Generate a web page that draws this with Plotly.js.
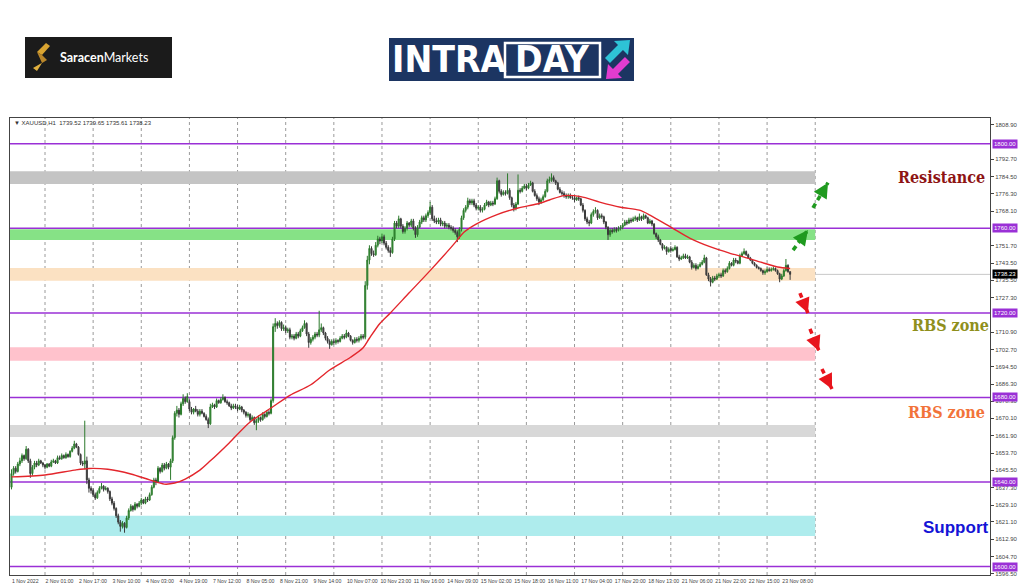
<!DOCTYPE html>
<html><head><meta charset="utf-8">
<script src="https://cdn.plot.ly/plotly-3.0.1.min.js"></script>
<style>html,body{margin:0;padding:0;background:#fff}#chart{width:1024px;height:587px}</style>
</head><body><div id="chart"></div>
<script>
// ---------------- DATA ----------------
const symbolInfo = "▼ XAUUSD,H1  1739.52 1739.65 1735.61 1738.23";
const tradingDays = ["1 Nov","2 Nov","3 Nov","4 Nov","7 Nov","8 Nov","9 Nov","10 Nov","11 Nov","14 Nov","15 Nov","16 Nov","17 Nov","18 Nov","21 Nov","22 Nov","23 Nov"];
const xTickLabels = ["1 Nov 2022","2 Nov 01:00","2 Nov 17:00","3 Nov 10:00","4 Nov 03:00","4 Nov 19:00","7 Nov 12:00","8 Nov 05:00","8 Nov 21:00","9 Nov 14:00","10 Nov 07:00","10 Nov 23:00","11 Nov 16:00","14 Nov 09:00","15 Nov 02:00","15 Nov 18:00","16 Nov 11:00","17 Nov 04:00","17 Nov 20:00","18 Nov 13:00","21 Nov 06:00","21 Nov 22:00","22 Nov 15:00","23 Nov 08:00"];

const openP = [
1637.5,1644,1646.5,1645,1648.5,1650,1652.5,1651,1655.5,1650,1644,1647,1649,1648,1650,1649,
1648,1647,1648.5,1647.5,1649.5,1650,1649,1651.5,1651,1652.5,1651.5,1653,1652,1654.5,1656,1658,1656.5,1653,1649,1648.5,1650,1641,1637,
1636,1634,1632.5,1635,1637,1638,1636.5,1637,1635.5,1632,1630,1627.5,1624,1621,1619,1620.5,1618.5,1623,1626.5,1628.5,1627,1629.5,1628.5,
1630,1631.5,1630,1632,1631.5,1634,1637.5,1641,1640,1646.5,1645,1648,1646.5,1648.5,1647,1650,1661,1672.5,1674,1672,1677,1679.5,1678,
1678,1674.5,1673,1674.5,1673.5,1672,1673.5,1672.5,1671,1669.5,1667.5,1675.5,1676.5,1675.5,1678.5,1677.5,1679,1680,1678,1677.5,1676,1675,1676,
1675.5,1674.5,1675.5,1674,1673,1671.5,1672,1669.5,1670.5,1668,1669,1670.5,1669.5,1672,1671,1673,1672.5,1678.5,1713.5,1715,1714,1715.5,1712.5,
1713,1711.5,1712,1708.5,1709,1708,1710,1709,1711.5,1713,1715,1710,1706,1707.5,1708.5,1710,1709.5,1712,1713,1710.5,1708,1706.5,1705,
1706.5,1706,1707,1706.5,1708,1709,1708.5,1710.5,1709,1707,1706,1707.5,1707,1708,1709,1708.5,1733,1745,1750.5,1748,1747.5,1752,1755,
1754,1756,1753,1751,1749.5,1748.5,1755,1762.5,1761,1764.5,1761,1758.5,1760,1762.5,1761.5,1763.5,1760,1757,1760.5,1763,1765,1764,1766,
1767.5,1770,1764.5,1763.5,1763,1764,1762,1762.5,1761,1761.5,1760.5,1760,1759,1758,1756,1759.5,1765,1768.5,1770,1773,1772,1773,1771,
1769.5,1770,1768.5,1769,1771,1772.5,1771,1772,1771.5,1774,1782.5,1777.5,1776,1777,1776.5,1778,1774.5,1771,1769.5,1771.5,1778,1777.5,1779,
1780,1779,1780.5,1781.5,1777.5,1775.5,1774,1772.5,1773.5,1775,1777.5,1782.5,1783,1784,1782.5,1781.5,1778.5,1777,1776.5,1775.5,1775,1775.5,1774.5,
1774.5,1773.5,1774.5,1774,1771,1768.5,1764.5,1763,1762.5,1766.5,1768,1768.5,1765,1766,1765.5,1763,1760.5,1757,1759,1758.5,1759.5,1759,1760,
1760.5,1761.5,1763,1762.5,1764,1763.5,1764.5,1765,1764,1765.5,1764.5,1766,1765,1762.5,1763.5,1762,1757.5,1756,1754.5,1752.5,1750.5,1751,1749,
1750.5,1749.5,1750,1751,1746.5,1745.5,1746,1747,1746,1746.5,1744,1741.5,1742.5,1741,1742,1743,1744,1746,1738,1736,1734.5,1736.5,1736,
1737.5,1738,1737.5,1740,1739.5,1741,1743.5,1742.5,1745,1744.5,1743.5,1747,1748,1749,1747.5,1746,1745,1743.5,1742.5,1741.5,1741,1740,1739,
1739.5,1740.5,1740,1740.5,1741,1740,1738.5,1736,1737.5,1740,1742.5,1739.52
];
const highP = [
1646,1647.5,1647.5,1649.5,1651.5,1653.5,1653,1657,1656,1651,1648,1650,1650,1651,1650.5,1649.5,
1648.5,1649,1649,1650.5,1651,1650.5,1652.5,1652.5,1653.5,1653,1654,1653.5,1655,1657,1659.5,1658.5,1657,1653.5,1650,1669,1652,1642,1638,
1637,1635,1636,1638,1639.5,1638.5,1638,1637.5,1636,1633,1631,1628,1625,1622,1621.5,1621,1624,1627.5,1629.5,1629,1630.5,1630,1631,
1632.5,1632,1633,1633,1635,1638.5,1642,1642,1647.5,1647,1649,1649,1649.5,1649,1651,1662,1673.5,1676,1675,1678,1681.5,1680.5,1682,
1679,1675.5,1675,1676,1674.5,1674.5,1674.5,1673,1672,1670.5,1677,1677.5,1677,1679.5,1679,1680,1681.5,1680.5,1679,1678,1677,1677,1677,
1676.5,1676.5,1676,1674.5,1673.5,1673,1672.5,1671.5,1671,1670,1671.5,1671,1673,1672.5,1674,1674,1679.5,1715,1717.5,1716,1716.5,1716,1714.5,
1714,1713,1713,1710,1710,1711,1711,1712.5,1714,1716.5,1715.5,1711,1708.5,1709.5,1711,1711,1721,1715,1713.5,1711,1709,1707.5,1707.5,
1707.5,1708,1707.5,1709,1710,1710,1712,1711,1709.5,1707.5,1708.5,1708.5,1709,1710,1710,1735,1747,1752,1751.5,1749.5,1753.5,1756.5,1756,
1757.5,1757,1754,1752,1751,1756,1763.5,1763.5,1766,1765,1762,1761,1763.5,1763,1764.5,1764.5,1761,1761.5,1764,1766,1766,1767,1768.5,
1772.5,1771,1766,1765,1765,1765,1763.5,1763.5,1762.5,1762.5,1761.5,1761,1760,1759,1760.5,1766,1769.5,1771,1774.5,1774,1774,1774,1772,
1771,1771,1770,1772,1773.5,1773,1773,1773,1775,1784,1783,1778.5,1778,1778,1786,1779,1775,1772,1772.5,1785.5,1779,1780,1781,
1781,1781.5,1782.5,1782,1778.5,1776.5,1775,1774.5,1776,1778.5,1783.5,1784.5,1786,1785,1783,1782,1779.5,1778,1777.5,1776.5,1776.5,1776.5,1775.5,
1775.5,1775,1775.5,1774.5,1772,1769,1765.5,1764,1767.5,1769,1770,1769,1767,1767,1766,1763.5,1761,1760,1760,1760.5,1760.5,1761,1761.5,
1762.5,1764,1764,1765,1765,1765.5,1766,1765.5,1767,1766,1767,1766.5,1765.5,1764.5,1764,1762.5,1758,1757,1755,1753,1752,1751.5,1751,
1751.5,1751,1752,1751.5,1747.5,1747,1748,1748,1747.5,1747,1745,1743.5,1743.5,1743,1744,1745,1747.5,1746.5,1739,1737,1737.5,1737.5,1738.5,
1739,1739,1741,1741,1742,1744.5,1744,1746,1746,1745,1748,1749,1750.5,1749.5,1748,1746.5,1745.5,1744,1743,1742,1741.5,1740.5,1740.5,
1741.5,1741.5,1741.5,1742,1741.5,1740.5,1739,1738.5,1741,1745.5,1743,1739.65
];
const lowP = [
1636.5,1643,1644,1644.5,1647.5,1649,1650,1650.5,1649,1642,1643,1646,1647,1647.5,1648.5,1647,
1646,1646.5,1647,1647,1649,1648.5,1648.5,1650.5,1650.5,1651,1651,1651.5,1651.5,1654,1655.5,1656,1652.5,1648,1647.5,1646,1639,1635,1634.5,
1633,1631.5,1632,1634.5,1636.5,1635.5,1636,1634.5,1631,1629,1626.5,1623,1620,1616.5,1618,1616,1618,1622,1626,1626,1626.5,1627.5,1628,
1629,1629.5,1629.5,1630.5,1631,1633.5,1637,1638.5,1639.5,1644,1644.5,1645.5,1646,1646,1641,1649,1660,1671,1670.5,1671.5,1676,1677,1677.5,
1673.5,1672,1672,1673,1671,1671,1672,1670.5,1669,1665.5,1667,1675,1674.5,1675,1677,1677,1678.5,1677.5,1676.5,1675.5,1674,1674.5,1674.5,
1673.5,1674,1673,1672,1670.5,1670.5,1668.5,1669,1667,1664.5,1668,1668.5,1669,1670,1670.5,1671.5,1672,1677.5,1711,1712.5,1713,1711.5,1711.5,
1710.5,1710.5,1707.5,1707.5,1707,1707.5,1708,1708.5,1711,1712.5,1709,1703.5,1705,1706.5,1707.5,1708.5,1708.5,1711,1709.5,1707,1705.5,1703,1704.5,
1705,1705,1705.5,1706,1707.5,1707.5,1708,1708.5,1706.5,1705,1705.5,1706,1706,1707,1707.5,1707.5,1731,1743,1747,1746.5,1747,1751,1752.5,
1753,1752,1750,1748.5,1746.5,1748,1754,1760,1760,1760,1757.5,1757.5,1759,1760.5,1760.5,1759,1755.5,1756,1760,1762,1763,1763,1765,
1766.5,1763.5,1762.5,1762,1762,1761,1761,1760,1760,1759.5,1759,1758,1757,1753.5,1755,1758.5,1764,1767.5,1769,1771,1771,1770,1768.5,
1768.5,1767.5,1767.5,1768.5,1770.5,1770,1770.5,1770.5,1771,1773.5,1776.5,1775,1775.5,1775.5,1776,1773.5,1770,1768,1768.5,1771,1776.5,1777,1778.5,
1778,1778.5,1780,1777,1775,1773,1771,1771.5,1773,1774.5,1777,1781.5,1782,1782,1780.5,1778,1776.5,1775.5,1774.5,1774,1774,1774,1773.5,
1772.5,1773,1773,1770.5,1767.5,1763.5,1762,1761,1762,1765.5,1767,1764,1764.5,1764.5,1762,1759.5,1754.5,1756,1757.5,1758,1758,1758.5,1759,
1759.5,1761,1761.5,1762,1762.5,1763,1763.5,1763,1763.5,1763.5,1764,1764.5,1762,1762,1761,1757,1755,1753.5,1752,1749.5,1750,1747.5,1748.5,
1748.5,1749,1749.5,1746,1744.5,1745,1745.5,1745.5,1745.5,1743.5,1740.5,1741,1740,1740.5,1741.5,1742.5,1743.5,1737.5,1735,1732.5,1734,1735,1735.5,
1736.5,1736.5,1737,1738.5,1739,1740.5,1742,1742,1743.5,1743,1743,1746.5,1747.5,1747,1745.5,1744.5,1743,1742,1741,1740.5,1739.5,1738,1738,
1739,1739.5,1739.5,1740,1739.5,1738,1734.5,1735.5,1737,1739.5,1739,1735.61
];
const closeP = [
1644,1646.5,1645,1648.5,1650,1652.5,1651,1655.5,1650,1644,1647,1649,1648,1650,1649,1648,
1647,1648.5,1647.5,1649.5,1650,1649,1651.5,1651,1652.5,1651.5,1653,1652,1654.5,1656,1658,1656.5,1653,1649,1648.5,1650,1641,1637,1636,
1634,1632.5,1635,1637,1638,1636.5,1637,1635.5,1632,1630,1627.5,1624,1621,1619,1620.5,1618.5,1623,1626.5,1628.5,1627,1629.5,1628.5,1630,
1631.5,1630,1632,1631.5,1634,1637.5,1641,1640,1646.5,1645,1648,1646.5,1648.5,1647,1650,1661,1672.5,1674,1672,1677,1679.5,1678,1680.5,
1674.5,1673,1674.5,1673.5,1672,1673.5,1672.5,1671,1669.5,1667.5,1675.5,1676.5,1675.5,1678.5,1677.5,1679,1680,1678,1677.5,1676,1675,1676,1675.5,
1674.5,1675.5,1674,1673,1671.5,1672,1669.5,1670.5,1668,1669,1670.5,1669.5,1672,1671,1673,1672.5,1678.5,1713.5,1715,1714,1715.5,1712.5,1713,
1711.5,1712,1708.5,1709,1708,1710,1709,1711.5,1713,1715,1710,1706,1707.5,1708.5,1710,1709.5,1712,1713,1710.5,1708,1706.5,1705,1706.5,
1706,1707,1706.5,1708,1709,1708.5,1710.5,1709,1707,1706,1707.5,1707,1708,1709,1708.5,1733,1745,1750.5,1748,1747.5,1752,1755,1754,
1756,1753,1751,1749.5,1748.5,1755,1762.5,1761,1764.5,1761,1758.5,1760,1762.5,1761.5,1763.5,1760,1757,1760.5,1763,1765,1764,1766,1767.5,
1770,1764.5,1763.5,1763,1764,1762,1762.5,1761,1761.5,1760.5,1760,1759,1758,1756,1759.5,1765,1768.5,1770,1773,1772,1773,1771,1769.5,
1770,1768.5,1769,1771,1772.5,1771,1772,1771.5,1774,1782.5,1777.5,1776,1777,1776.5,1778,1774.5,1771,1769.5,1771.5,1778,1777.5,1779,1780,
1779,1780.5,1781.5,1777.5,1775.5,1774,1772.5,1773.5,1775,1777.5,1782.5,1783,1784,1782.5,1781.5,1778.5,1777,1776.5,1775.5,1775,1775.5,1774.5,1774.5,
1773.5,1774.5,1774,1771,1768.5,1764.5,1763,1762.5,1766.5,1768,1768.5,1765,1766,1765.5,1763,1760.5,1757,1759,1758.5,1759.5,1759,1760,1760.5,
1761.5,1763,1762.5,1764,1763.5,1764.5,1765,1764,1765.5,1764.5,1766,1765,1762.5,1763.5,1762,1757.5,1756,1754.5,1752.5,1750.5,1751,1749,1750,
1749.5,1750,1751,1746.5,1745.5,1746,1747,1746,1746.5,1744,1741.5,1742.5,1741,1742,1743,1744,1746,1738,1736,1734.5,1736.5,1736,1737.5,
1738,1737.5,1740,1739.5,1741,1743.5,1742.5,1745,1744.5,1743.5,1747,1748,1749,1747.5,1746,1745,1743.5,1742.5,1741.5,1741,1740,1739,1739.5,
1740.5,1740,1740.5,1741,1740,1738.5,1736,1737.5,1740,1742.5,1739.52,1738.23
];

// moving average (bar index, value)
const maIdx = [0,16,30,37,46,57,66,73,78,83,90,95,104,114,124,133,143,152,162,168,171,176,181,190,200,210,213,216,222,232,242,251,257,264,272,281,291,300,305,315,324,334,343,350,358,366,372];
const maVal = [1642.4,1643.3,1645.6,1646.4,1646,1643.8,1641,1639,1639.5,1641.4,1645.6,1650,1658.5,1668.4,1675,1681,1686,1693,1699,1703.5,1708,1715,1720,1729.5,1740,1751,1754.5,1758,1762,1766.5,1769.6,1771.5,1773.4,1775.5,1775,1772.4,1770,1768.6,1766.3,1760.6,1755.4,1751.2,1748.3,1746.4,1744,1741.7,1741];

const yTickVals = [1808.9,1792.7,1784.5,1776.3,1768.1,1751.7,1743.5,1735.5,1727.3,1710.9,1702.7,1694.5,1686.3,1678.3,1670.1,1661.9,1653.7,1645.5,1637.3,1629.1,1621.1,1612.9,1604.7,1596.5];
const levelLines = [1800,1760,1720,1680,1640,1600];
const lastPrice = 1738.23;
const zoneLow  = [1781, 1754.5, 1735.2, 1697.3, 1661.3, 1614.5];
const zoneHigh = [1787, 1759.6, 1741.2, 1703.8, 1667.0, 1624.0];
const zoneNames = ["gray", "green", "peach", "pink", "lightgray", "cyan"];

// ---------------- STYLES ----------------
const zoneColors = {gray:'#c4c4c4', green:'#86e286', peach:'#fbe1c2', pink:'#ffc2cc', lightgray:'#d8d8d8', cyan:'#aeeced'};
const purple = '#9a30d6';

// ---------------- BUILD ----------------
const barTimes = [];
for (let d = 0; d < tradingDays.length && barTimes.length < closeP.length; d++) {
  for (let h = (d === 0 ? 8 : 1); h <= 23 && barTimes.length < closeP.length; h++) {
    barTimes.push(tradingDays[d] + ' ' + String(h).padStart(2, '0') + ':00');
  }
}
const xTickVals = barTimes.filter((_, i) => i % 16 === 0);
const dayStarts = [];
barTimes.forEach((t, i) => { if (t.endsWith(' 01:00')) dayStarts.push(i); });
const barsPerDay = 23;
const futureDay = dayStarts[dayStarts.length - 1] + barsPerDay;
const allDayLines = dayStarts.concat([futureDay]);

const P = x => (x - 10) / 980;          // pixel -> paper x
const Q = y => (575 - y) / 457;          // pixel -> paper y

const shapes = [];
zoneNames.forEach((n, k) => {
  shapes.push({type:'rect', xref:'x', yref:'y', x0:-1, x1:futureDay, y0:zoneLow[k], y1:zoneHigh[k],
    fillcolor:zoneColors[n], line:{width:0}, layer:'below'});
});
allDayLines.forEach(i => {
  shapes.push({type:'line', xref:'x', yref:'paper', x0:i, x1:i, y0:0, y1:1,
    line:{color:'#9a9a9a', width:1, dash:'dot'}, layer:'below'});
});
shapes.push({type:'line', xref:'paper', yref:'y', x0:0, x1:1, y0:lastPrice, y1:lastPrice,
  line:{color:'#c8c8c8', width:1}, layer:'below'});
levelLines.forEach(v => {
  shapes.push({type:'line', xref:'paper', yref:'y', x0:0, x1:1, y0:v, y1:v,
    line:{color:purple, width:1.5}, layer:'below'});
});

const annotations = [];
annotations.push({xref:'paper', yref:'paper', x:P(12), y:Q(123), xanchor:'left', yanchor:'middle',
  text:symbolInfo, showarrow:false, font:{size:6, color:'#333', family:'Liberation Sans, Arial, sans-serif'}});
levelLines.forEach(v => {
  annotations.push({xref:'paper', yref:'y', x:1, y:v, xanchor:'left', yanchor:'middle', xshift:2,
    text:v.toFixed(2), showarrow:false, bgcolor:purple, borderpad:1,
    font:{size:6, color:'#fff', family:'Liberation Sans, Arial, sans-serif'}});
});
annotations.push({xref:'paper', yref:'y', x:1, y:lastPrice, xanchor:'left', yanchor:'middle', xshift:2,
  text:lastPrice.toFixed(2), showarrow:false, bgcolor:'#000', borderpad:1,
  font:{size:6, color:'#fff', family:'Liberation Sans, Arial, sans-serif'}});

const slab = 'DejaVu Serif Condensed, DejaVu Serif, serif';
[["Resistance", 941, 177, '#8e1414', slab, 16],
 ["RBS zone", 950, 325, '#8f8f1c', slab, 16],
 ["RBS zone", 946, 412, '#f2733a', slab, 16],
 ["Support", 955, 527, '#1414d6', 'Liberation Sans, Arial, sans-serif', 17]].forEach(a => {
  annotations.push({xref:'paper', yref:'paper', x:P(a[1]), y:Q(a[2]), xanchor:'center', yanchor:'middle',
    text:'<b>' + a[0] + '</b>', showarrow:false, font:{size:a[5], color:a[3], family:a[4]}});
});

const scen = [
  {t:[373.4,1749.7], h:[380.5,1759.2], c:'#1f9a1f'},
  {t:[382.9,1769.7], h:[390.1,1781.6], c:'#1f9a1f'},
  {t:[376.7,1729.4], h:[380.5,1719.9], c:'#e8141c'},
  {t:[381.5,1712.4], h:[385.8,1702.0], c:'#e8141c'},
  {t:[387.2,1693.5], h:[392.0,1684.0], c:'#e8141c'}
];
scen.forEach(s => {
  shapes.push({type:'line', xref:'x', yref:'y', x0:s.t[0], y0:s.t[1], x1:s.h[0], y1:s.h[1],
    line:{color:s.c, width:3.5, dash:'5px,4px'}});
  annotations.push({xref:'x', yref:'y', axref:'x', ayref:'y', x:s.h[0], y:s.h[1],
    ax:s.h[0] + 0.3 * (s.t[0] - s.h[0]), ay:s.h[1] + 0.3 * (s.t[1] - s.h[1]),
    text:'', showarrow:true, arrowhead:2, arrowsize:1, arrowwidth:3, arrowcolor:s.c});
});

// ---- header logos ----
function pathFrom(pts) {
  return 'M ' + pts.map(p => P(p[0]).toFixed(5) + ',' + Q(p[1]).toFixed(5)).join(' L ') + ' Z';
}
shapes.push({type:'rect', xref:'paper', yref:'paper', x0:P(25), x1:P(172), y0:Q(78), y1:Q(37),
  fillcolor:'#1b1b1b', line:{width:0}});
shapes.push({type:'path', xref:'paper', yref:'paper', fillcolor:'#d9a431', line:{width:0},
  path: pathFrom([[46,43],[50,46],[42,55],[37,52]])});
shapes.push({type:'path', xref:'paper', yref:'paper', fillcolor:'#b9862a', line:{width:0},
  path: pathFrom([[37,52],[42,55],[47,60],[42,63]])});
shapes.push({type:'path', xref:'paper', yref:'paper', fillcolor:'#e0b03e', line:{width:0},
  path: pathFrom([[47,60],[42,63],[37,71],[33,68]])});
annotations.push({xref:'paper', yref:'paper', x:P(58), y:Q(57.5), xanchor:'left', yanchor:'middle',
  text:'<b>Saracen</b>Markets', showarrow:false, font:{size:12.5, color:'#fff', family:'Lato, Open Sans, sans-serif'}});

shapes.push({type:'rect', xref:'paper', yref:'paper', x0:P(389), x1:P(634), y0:Q(81), y1:Q(38),
  fillcolor:'#1c3562', line:{width:0}});
shapes.push({type:'rect', xref:'paper', yref:'paper', x0:P(505), x1:P(600), y0:Q(77), y1:Q(43),
  fillcolor:'#1c3562', line:{color:'#fff', width:2.5}});
annotations.push({xref:'paper', yref:'paper', x:P(449), y:Q(60), xanchor:'center', yanchor:'middle',
  text:'<b>INTRA</b>', showarrow:false, font:{size:37, color:'#fff', family:'DejaVu Sans Condensed, Liberation Sans Narrow, sans-serif'}});
annotations.push({xref:'paper', yref:'paper', x:P(552), y:Q(60), xanchor:'center', yanchor:'middle',
  text:'<b>DAY</b>', showarrow:false, font:{size:37, color:'#fff', family:'DejaVu Sans Condensed, Liberation Sans Narrow, sans-serif'}});
shapes.push({type:'path', xref:'paper', yref:'paper', fillcolor:'#2ec3d6', line:{width:0},
  path: pathFrom([[630,40],[628,55],[623,50],[610,63],[605,58],[618,45],[614,41]])});
shapes.push({type:'path', xref:'paper', yref:'paper', fillcolor:'#e23ccf', line:{width:0},
  path: pathFrom([[606,79],[608,64],[613,69],[625,57],[630,62],[618,74],[622,78]])});

// ---------------- TRACES ----------------
const candles = {
  type:'candlestick', x:barTimes, open:openP, high:highP, low:lowP, close:closeP,
  increasing:{line:{color:'#2c7a2c', width:1}, fillcolor:'#3a9a3a'},
  decreasing:{line:{color:'#3a3a3a', width:1}, fillcolor:'#505050'},
  whiskerwidth:0, hoverinfo:'skip'
};
const ma = {
  type:'scatter', mode:'lines', x:maIdx.map(i => barTimes[i]), y:maVal,
  line:{color:'#e3262c', width:1.4, shape:'spline', smoothing:0.8}, hoverinfo:'skip'
};

const axisFont = {size:6, color:'#444', family:'Liberation Sans, Arial, sans-serif'};
const xFont = {size:5.2, color:'#444', family:'Liberation Sans Narrow, Liberation Sans, Arial, sans-serif'};
const layout = {
  width:1024, height:587,
  margin:{l:10, r:34, t:118, b:12, pad:0},
  paper_bgcolor:'#fff', plot_bgcolor:'#fff',
  showlegend:false,
  font:{family:'Liberation Sans, Arial, sans-serif', size:6, color:'#444'},
  xaxis:{type:'category', range:[-0.72, 467.5], tickmode:'array', tickvals:xTickVals, ticktext:xTickLabels,
    tickangle:0, ticks:'', ticklen:0, showgrid:false, zeroline:false, showline:true, linecolor:'#444', linewidth:1, mirror:true,
    rangeslider:{visible:false}, ticklabelposition:'outside right', ticklabelstandoff:1, tickfont:xFont, automargin:false},
  yaxis:{side:'right', range:[1596, 1812.2], tickmode:'array', tickvals:yTickVals,
    ticktext:yTickVals.map(v => v.toFixed(2)), ticks:'outside', ticklen:3, tickcolor:'#444',
    showgrid:false, zeroline:false, showline:true, linecolor:'#444', linewidth:1, mirror:true,
    tickfont:axisFont, automargin:false},
  shapes:shapes, annotations:annotations
};

Plotly.newPlot('chart', [candles, ma], layout, {displayModeBar:false, staticPlot:true});
</script>
</body></html>
